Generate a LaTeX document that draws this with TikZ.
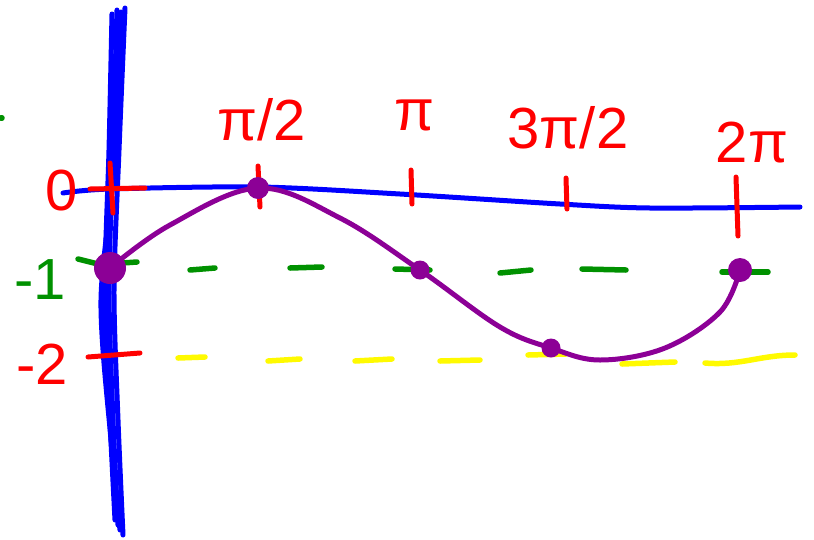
\documentclass[tikz,border=0pt]{standalone}
\usepackage{fontspec}
\setmainfont{Liberation Sans}
\definecolor{plum}{RGB}{140,0,150}
\definecolor{grn}{RGB}{0,145,0}
\definecolor{yel}{RGB}{255,250,0}
\begin{document}
\begin{tikzpicture}[x=1pt,y=-1pt,line cap=round,line join=round,
  axisline/.style={draw=blue,line width=5pt},
  redmark/.style={draw=red,line width=5pt},
  greendash/.style={draw=grn,line width=5.5pt},
  yellowdash/.style={draw=yel,line width=5.5pt},
  curve/.style={draw=plum,line width=5pt},
  dot/.style={circle,fill=plum,inner sep=0pt,minimum size=#1},
  redlabel/.style={text=red,font=\fontsize{58}{60}\selectfont,inner sep=0pt},
  greenlabel/.style={text=grn,font=\fontsize{58}{60}\selectfont,inner sep=0pt}]
\useasboundingbox (0,0) rectangle (814,539);
% vertical axis (several strokes)
\draw[axisline] plot[smooth] coordinates {(112,14) (109,150) (105,290) (110,420) (115,520)};
\draw[axisline] plot[smooth] coordinates {(117,10) (113,150) (109,290) (113,420) (118,525)};
\draw[axisline] plot[smooth] coordinates {(125,8) (119,150) (114,290) (118,420) (123,535)};
\draw[axisline] plot[smooth] coordinates {(121,12) (115,160) (101,300) (111,440) (120,530)};
% horizontal axis
\draw[axisline] plot[smooth] coordinates {(63,193) (110,189) (260,187) (400,194) (560,204) (650,208) (800,207)};
% red ticks
\draw[redmark] (90,189) -- (145,188);
\draw[redmark] (110,163) -- (113,213);
\draw[redmark] (258,166) -- (260,207);
\draw[redmark] (411,170) -- (412,204);
\draw[redmark] (566,178) -- (567,209);
\draw[redmark] (736,177) -- (738,236);
\draw[redmark] (88,357) -- (140,353);
% green dashed line y=-1
\draw[greendash] (1,118) -- (2,118);
\draw[greendash] (78,259) -- (98,264);
\draw[greendash] (122,263) -- (137,262);
\draw[greendash] (190,270) -- (215,268);
\draw[greendash] (290,268) -- (322,267);
\draw[greendash] (395,269) -- (430,270);
\draw[greendash] (500,273) -- (531,270);
\draw[greendash] (582,269) -- (626,270);
\draw[greendash] (722,272) -- (768,272);
% yellow dashed line y=-2
\draw[yellowdash] (178,358) -- (205,357);
\draw[yellowdash] (268,361) -- (300,359);
\draw[yellowdash] (355,361) -- (392,359);
\draw[yellowdash] (440,361) -- (480,360);
\draw[yellowdash] (528,355) -- (566,354);
\draw[yellowdash] (622,364) -- (675,362);
\draw[yellowdash] (705,363) .. controls (740,366) and (760,355) .. (795,355);
% labels
\node[redlabel] (l0) at (62,191) {0};
\node[greenlabel] (lm1) at (40,280) {-1};
\node[redlabel] (lm2) at (42,364) {-2};
\node[redlabel] (lhalf) at (262,120) {π/2};
\node[redlabel] (lpi) at (415,115) {π};
\node[redlabel] (l3half) at (568,128) {3π/2};
\node[redlabel] (l2pi) at (752,143) {2π};
% curve
\coordinate (p0) at (110,268);
\coordinate (p1) at (258,188);
\coordinate (p2) at (420,270);
\coordinate (p3) at (551,348);
\coordinate (p4) at (740,270);
\draw[curve] plot[smooth,tension=0.6] coordinates {(p0) (170,225) (p1) (340,218) (p2) (500,327) (p3) (600,360) (665,348) (720,312) (p4)};
\node[dot=32pt] (d0) at (p0) {};
\node[dot=22pt] (d1) at (p1) {};
\node[dot=19pt] (d2) at (p2) {};
\node[dot=19pt] (d3) at (p3) {};
\node[dot=24pt] (d4) at (p4) {};
\end{tikzpicture}
\end{document}
